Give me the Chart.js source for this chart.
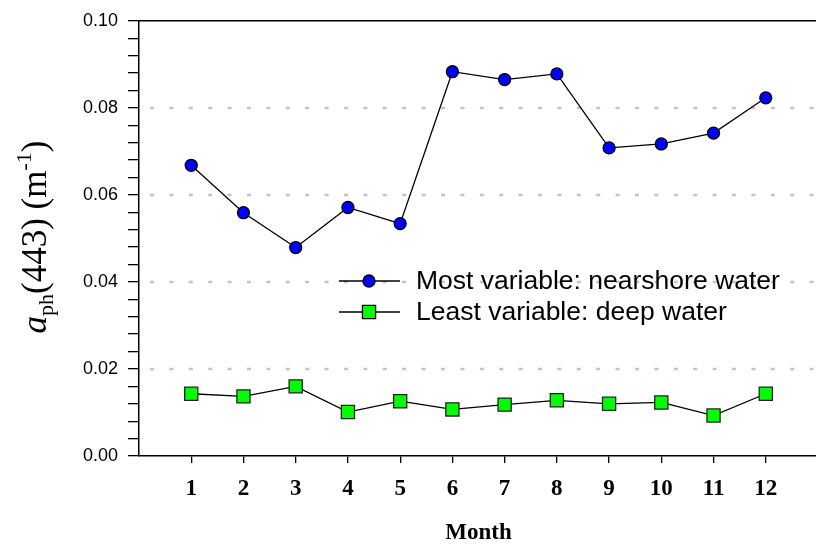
<!DOCTYPE html>
<html>
    <head>
        <meta charset="utf-8">
        <script src="https://cdn.jsdelivr.net/npm/chart.js@4.4.0/dist/chart.umd.min.js"></script>
        <style>
            body { margin: 0; background: #fff; }
            #wrap { width: 816px; height: 547px; overflow: hidden; }
        </style>
    </head>
    <body>
        <div id="wrap"><canvas id="aphChart" width="830" height="547"></canvas></div>

        <script type="text/javascript">
        // monthly a_ph(443), m^-1
        var months = [1, 2, 3, 4, 5, 6, 7, 8, 9, 10, 11, 12];
        var nearshore = [0.0668, 0.0559, 0.0479, 0.0571, 0.0534, 0.0883, 0.0865, 0.0878, 0.0708, 0.0717, 0.0742, 0.0823];
        var deepWater = [0.0143, 0.0137, 0.0160, 0.0101, 0.0126, 0.0107, 0.0118, 0.0128, 0.0120, 0.0123, 0.0093, 0.0143];
        var gridValues = [0.02, 0.04, 0.06, 0.08];
        var seriesNames = ['Most variable: nearshore water', 'Least variable: deep water'];

        function toPoints(values) {
            return months.map(function(m, i) { return {x: m, y: values[i]}; });
        }

        var serif = '"Liberation Serif", "Times New Roman", serif';
        var sans = '"Liberation Sans", Arial, sans-serif';

        // dotted horizontal guides + top frame line
        var frame = {
            id: 'frame',
            beforeDatasetsDraw: function(chart) {
                var ctx = chart.ctx, a = chart.chartArea, y = chart.scales.y;
                ctx.save();
                ctx.strokeStyle = '#c4c4c4';
                ctx.lineWidth = 2.5;
                ctx.setLineDash([4, 15.4]);
                gridValues.forEach(function(v) {
                    var py = Math.round(y.getPixelForValue(v));
                    ctx.beginPath();
                    ctx.moveTo(a.left + 11, py);
                    ctx.lineTo(a.right, py);
                    ctx.stroke();
                });
                ctx.setLineDash([]);
                ctx.strokeStyle = '#000';
                ctx.lineWidth = 1.5;
                ctx.beginPath();
                ctx.moveTo(a.left, a.top);
                ctx.lineTo(a.right, a.top);
                ctx.stroke();
                ctx.restore();
            }
        };

        // legend inside the plot
        var innerLegend = {
            id: 'innerLegend',
            afterDatasetsDraw: function(chart) {
                var ctx = chart.ctx;
                var rows = [281, 312];
                ctx.save();
                chart.data.datasets.forEach(function(ds, i) {
                    var ry = rows[i];
                    ctx.strokeStyle = '#000';
                    ctx.lineWidth = 1.3;
                    ctx.beginPath();
                    ctx.moveTo(339, ry);
                    ctx.lineTo(400, ry);
                    ctx.stroke();
                    ctx.fillStyle = ds.pointBackgroundColor;
                    ctx.strokeStyle = '#000';
                    ctx.lineWidth = ds.pointBorderWidth;
                    Chart.helpers.drawPoint(ctx, {pointStyle: ds.pointStyle, radius: ds.pointRadius, borderWidth: ds.pointBorderWidth}, 369, ry);
                    ctx.fillStyle = '#000';
                    ctx.font = '26.5px ' + sans;
                    ctx.textBaseline = 'middle';
                    ctx.textAlign = 'left';
                    ctx.fillText(seriesNames[i], 416, ry + 1);
                });
                ctx.restore();
            }
        };

        // rotated y-axis title: a_ph(443) (m^-1)
        var yTitle = {
            id: 'yTitle',
            afterDraw: function(chart) {
                var ctx = chart.ctx;
                var big = 35, small = 22;
                var parts = [
                    {t: 'a', f: 'italic ' + big + 'px ' + serif, dy: 0},
                    {t: 'ph', f: small + 'px ' + serif, dy: 7},
                    {t: '(443) (m', f: big + 'px ' + serif, dy: 0},
                    {t: '-1', f: small + 'px ' + serif, dy: -15},
                    {t: ')', f: big + 'px ' + serif, dy: 0}
                ];
                ctx.save();
                var total = 0;
                parts.forEach(function(p) { ctx.font = p.f; p.w = ctx.measureText(p.t).width; total += p.w; });
                ctx.translate(46, 237);
                ctx.rotate(-Math.PI / 2);
                ctx.fillStyle = '#000';
                ctx.textBaseline = 'alphabetic';
                var x = -total / 2;
                parts.forEach(function(p) {
                    ctx.font = p.f;
                    ctx.fillText(p.t, x, p.dy);
                    x += p.w;
                });
                ctx.restore();
            }
        };

        const config = {
            type: 'line',
            data: {
                datasets: [{
                    label: seriesNames[0],
                    data: toPoints(nearshore),
                    borderColor: '#000',
                    borderWidth: 1.3,
                    pointStyle: 'circle',
                    pointRadius: 6,
                    pointBorderWidth: 1.3,
                    pointBackgroundColor: '#0000ff',
                    pointBorderColor: '#000',
                    tension: 0
                }, {
                    label: seriesNames[1],
                    data: toPoints(deepWater),
                    borderColor: '#000',
                    borderWidth: 1.3,
                    pointStyle: 'rect',
                    pointRadius: 9.3,
                    pointBorderWidth: 1.3,
                    pointBackgroundColor: '#00ff00',
                    pointBorderColor: '#222',
                    tension: 0
                }]
            },
            options: {
                responsive: false,
                animation: false,
                layout: { padding: { left: 0, top: 18, right: 2, bottom: 0 } },
                plugins: { legend: { display: false }, tooltip: { enabled: false } },
                scales: {
                    x: {
                        type: 'linear',
                        min: 0,
                        max: 13,
                        afterFit: function(s) { s.height = 91; },
                        ticks: {
                            stepSize: 1,
                            autoSkip: false,
                            maxRotation: 0,
                            padding: 12,
                            color: '#000',
                            font: { family: serif, size: 23, weight: 'bold' },
                            callback: function(v) { return (v >= 1 && v <= 12) ? String(v) : ''; }
                        },
                        grid: {
                            drawOnChartArea: false,
                            tickLength: 7,
                            lineWidth: 1.3,
                            tickColor: function(c) { return (c.tick && c.tick.value >= 1 && c.tick.value <= 12) ? '#000' : 'rgba(0,0,0,0)'; }
                        },
                        border: { color: '#000', width: 1.5 },
                        title: {
                            display: true,
                            text: 'Month',
                            color: '#000',
                            font: { family: serif, size: 23, weight: 'bold' },
                            padding: { top: 0, bottom: 0 }
                        }
                    },
                    y: {
                        min: 0,
                        max: 0.1,
                        afterFit: function(s) { s.width = 139; },
                        ticks: {
                            stepSize: 0.004,
                            autoSkip: false,
                            padding: 10,
                            color: '#000',
                            font: { family: sans, size: 18 },
                            callback: function(v) {
                                var k = v / 0.02;
                                return Math.abs(k - Math.round(k)) < 1e-6 ? v.toFixed(2) : '';
                            }
                        },
                        grid: {
                            drawOnChartArea: false,
                            tickLength: 11,
                            lineWidth: 1.3,
                            tickColor: '#000'
                        },
                        border: { color: '#000', width: 1.5 }
                    }
                }
            },
            plugins: [frame, innerLegend, yTitle]
        };

        new Chart(document.getElementById('aphChart'), config);
        </script>
    </body>
</html>
